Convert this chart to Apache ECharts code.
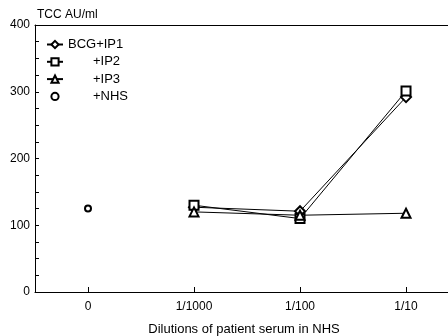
<!DOCTYPE html>
<html>
<head>
<meta charset="utf-8">
<script src="https://cdn.jsdelivr.net/npm/echarts@6/dist/echarts.min.js"></script>
<style>
  html, body { margin: 0; padding: 0; background: #fff; }
  #chart { width: 448px; height: 336px; }
</style>
</head>
<body>
<div id="chart"></div>
<script>
// dilution categories
const dilutions = ['0', '1/1000', '1/100', '1/10']
// TCC AU/ml values per serum mix
const bcgIp1 = [null, 127, 121, 292]
const ip2 = [null, 130, 110, 301]
const ip3 = [null, 120, 115, 118]
const nhs = [125, null, null, null]
const yTicks = [0, 100, 200, 300, 400]

const font = 'Liberation Sans, Arial, sans-serif'
const chart = echarts.init(document.getElementById('chart'), null, { renderer: 'canvas' })

// category index -> [x, y] pairs, skipping empty cells
const toPairs = values => values.map((v, i) => [i, v]).filter(p => p[1] !== null)
const catIdx = dilutions.map((d, i) => i)

const mkSeries = (name, values, symbol, size) => ({
  name: name,
  type: 'line',
  data: toPairs(values),
  symbol: symbol,
  symbolSize: size,
  showSymbol: true,
  lineStyle: { color: '#000', width: 1 },
  itemStyle: { color: '#fff', borderColor: '#000', borderWidth: 2 },
  emphasis: { disabled: true },
  z: 3
})

chart.setOption({
  animation: false,
  backgroundColor: '#fff',
  title: [
    {
      text: 'TCC AU/ml',
      left: 32, top: 4,
      textStyle: { fontFamily: font, fontSize: 12, fontWeight: 'normal', color: '#000' }
    },
    {
      text: 'Dilutions of patient serum in NHS',
      left: 239, top: 318, textAlign: 'center',
      textStyle: { fontFamily: font, fontSize: 13, fontWeight: 'normal', color: '#000' }
    }
  ],
  legend: {
    orient: 'vertical',
    left: 46, top: 37, padding: 0,
    itemWidth: 16, itemHeight: 9,
    itemGap: 2.3,
    data: ['BCG+IP1', '+IP2', '+IP3', '+NHS'],
    formatter: name => name === 'BCG+IP1' ? name : '{p|' + name + '}',
    textStyle: {
      fontFamily: font, fontSize: 13, color: '#000', lineHeight: 15,
      rich: { p: { padding: [0, 0, 0, 25], fontFamily: font, fontSize: 13, color: '#000', lineHeight: 15 } }
    }
  },
  grid: { left: 35, right: 0, top: 25, bottom: 44 },
  xAxis: [
    {
      type: 'value',
      min: -0.5, max: 3.396,
      axisLine: { onZero: false, lineStyle: { color: '#000', width: 1 } },
      axisTick: { inside: true, length: 5, customValues: catIdx, lineStyle: { color: '#000' } },
      axisLabel: {
        fontFamily: font, fontSize: 12, color: '#000', margin: 9,
        customValues: catIdx,
        formatter: v => dilutions[Math.round(v)]
      },
      splitLine: { show: false }
    },
    {
      type: 'value', position: 'top',
      min: -0.5, max: 3.396,
      axisLine: { show: true, onZero: false, lineStyle: { color: '#000', width: 1 } },
      axisTick: { show: false }, axisLabel: { show: false }, splitLine: { show: false }
    }
  ],
  yAxis: {
    type: 'value',
    min: yTicks[0], max: yTicks[yTicks.length - 1], interval: 100,
    axisLine: { show: true, onZero: false, lineStyle: { color: '#000', width: 1 } },
    axisTick: { show: true, inside: true, length: 4, lineStyle: { color: '#000' } },
    minorTick: { show: true, splitNumber: 4, length: 4, lineStyle: { color: '#000' } },
    axisLabel: { fontFamily: font, fontSize: 12, color: '#000', margin: 5 },
    splitLine: { show: false }
  },
  series: [
    mkSeries('BCG+IP1', bcgIp1, 'diamond', 10),
    mkSeries('+IP2', ip2, 'rect', 9),
    mkSeries('+IP3', ip3, 'triangle', 9),
    Object.assign(mkSeries('+NHS', nhs, 'circle', 6), { lineStyle: { width: 0, color: '#000' } })
  ]
})
</script>
</body>
</html>
